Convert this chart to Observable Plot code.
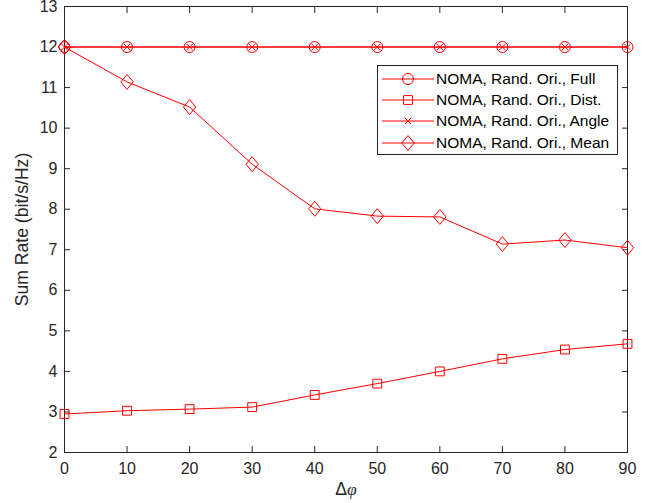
<!DOCTYPE html>
<html>
<head>
<meta charset="utf-8">
<script src="https://cdn.jsdelivr.net/npm/d3@7"></script>
<script src="https://cdn.jsdelivr.net/npm/@observablehq/plot@0.6"></script>
<style>
  html, body { margin: 0; padding: 0; background: #fff; }
  #wrap { position: relative; width: 654px; height: 503px; font-family: "Liberation Sans", Arial, sans-serif; }
  #legend { position: absolute; left: 377px; top: 65px; width: 241px; height: 90px; border: 1px solid #262626; background: #fff; box-sizing: border-box; padding-top: 2px; }
  .row { display: flex; align-items: center; height: 21.3px; font-size: 15.5px; color: #000; white-space: nowrap; }
  .row svg { width: 58px; height: 20px; flex: none; }
</style>
</head>
<body>
<div id="wrap"></div>
<script>
const xValues = [0, 10, 20, 30, 40, 50, 60, 70, 80, 90];
const fullRate  = [12, 12, 12, 12, 12, 12, 12, 12, 12, 12];
const distRate  = [2.95, 3.03, 3.07, 3.12, 3.42, 3.70, 4.00, 4.31, 4.54, 4.68];
const angleRate = [12, 12, 12, 12, 12, 12, 12, 12, 12, 12];
const meanRate  = [12.0, 11.14, 10.52, 9.11, 8.01, 7.83, 7.81, 7.14, 7.24, 7.05];
const seriesNames = ["NOMA, Rand. Ori., Full", "NOMA, Rand. Ori., Dist.", "NOMA, Rand. Ori., Angle", "NOMA, Rand. Ori., Mean"];
const xTicks = [0, 10, 20, 30, 40, 50, 60, 70, 80, 90];
const yTicks = [2, 3, 4, 5, 6, 7, 8, 9, 10, 11, 12, 13];

const red = "#ff0000";
const axisColor = "#262626";

// custom tall diamond (MATLAB-like)
const tallDiamond = {
  draw(ctx, size) {
    const r = Math.sqrt(size / Math.PI);
    const w = r, h = r * 1.2;
    ctx.moveTo(0, -h); ctx.lineTo(w, 0); ctx.lineTo(0, h); ctx.lineTo(-w, 0); ctx.closePath();
  }
};
const symbols = ["circle", "square", "times", tallDiamond];
const radii = [5.5, 5, 3, 6.2];
const seriesValues = [fullRate, distRate, angleRate, meanRate];

const rows = [];
seriesValues.forEach((vals, s) => vals.forEach((v, i) => rows.push({series: s, x: xValues[i], y: v})));

const marks = [];
seriesValues.forEach((vals, s) => {
  const data = rows.filter(d => d.series === s);
  marks.push(Plot.line(data, {x: "x", y: "y", stroke: red, strokeWidth: 1}));
  marks.push(Plot.dot(data, {x: "x", y: "y", stroke: red, fill: "none", strokeWidth: 1, r: radii[s], symbol: () => symbols[s]}));
});

const chart = Plot.plot({
  width: 654,
  height: 503,
  marginLeft: 64,
  marginRight: 27,
  marginTop: 6,
  marginBottom: 51,
  style: {fontFamily: "'Liberation Sans', Arial, sans-serif", fontSize: "16px", color: axisColor, background: "#fff", overflow: "visible"},
  x: {domain: [0, 90]},
  y: {domain: [2, 13]},
  marks: [
    Plot.frame({stroke: axisColor, strokeWidth: 1}),
    Plot.axisX({anchor: "bottom", ticks: xTicks, tickSize: -6, tickPadding: 16, fontSize: 16, stroke: axisColor, fill: axisColor, label: "Δφ", labelAnchor: "center", labelOffset: 42, labelArrow: "none"}),
    Plot.axisX({anchor: "top", ticks: xTicks, tickSize: -6, tickFormat: () => "", stroke: axisColor, label: null}),
    Plot.axisY({anchor: "left", ticks: yTicks, tickSize: -6, tickPadding: 13, fontSize: 16, stroke: axisColor, fill: axisColor, label: "Sum Rate (bit/s/Hz)", labelAnchor: "center", labelOffset: 49, labelArrow: "none"}),
    Plot.axisY({anchor: "right", ticks: yTicks, tickSize: -6, tickFormat: () => "", stroke: axisColor, label: null}),
    ...marks
  ]
});

const wrap = document.getElementById("wrap");
wrap.appendChild(chart);

// italic phi in x label, larger axis labels
chart.querySelectorAll("text").forEach(t => {
  if (t.textContent === "Δφ") {
    t.textContent = "";
    const a = document.createElementNS("http://www.w3.org/2000/svg", "tspan");
    a.textContent = "Δ";
    const b = document.createElementNS("http://www.w3.org/2000/svg", "tspan");
    b.textContent = "φ";
    b.setAttribute("font-style", "italic");
    b.setAttribute("font-family", "'Liberation Serif', serif");
    t.appendChild(a); t.appendChild(b);
    t.setAttribute("font-size", "17.6");
  }
  if (t.textContent === "Sum Rate (bit/s/Hz)") t.setAttribute("font-size", "17.6");
});

// legend
const legend = document.createElement("div");
legend.id = "legend";
seriesNames.forEach((name, s) => {
  const row = document.createElement("div");
  row.className = "row";
  const svg = d3.create("svg");
  svg.append("line").attr("x1", 4).attr("x2", 56).attr("y1", 10).attr("y2", 10).attr("stroke", red).attr("stroke-width", 1);
  const r = radii[s];
  svg.append("path").attr("transform", "translate(30,10)")
    .attr("d", d3.symbol(typeof symbols[s] === "string" ? {circle: d3.symbolCircle, square: d3.symbolSquare, times: d3.symbolTimes}[symbols[s]] : symbols[s], Math.PI * r * r)())
    .attr("fill", "none").attr("stroke", red).attr("stroke-width", 1);
  row.appendChild(svg.node());
  const span = document.createElement("span");
  span.textContent = name;
  row.appendChild(span);
  legend.appendChild(row);
});
wrap.appendChild(legend);
</script>
</body>
</html>
